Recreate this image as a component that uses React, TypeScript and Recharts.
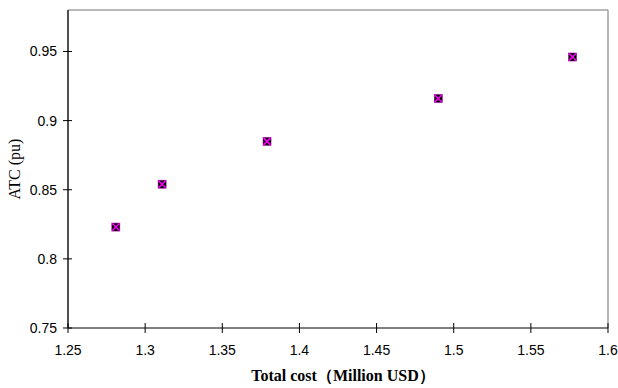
import React from "react";
import { ScatterChart, Scatter, XAxis, YAxis, ReferenceLine } from "recharts";

const totalCost = [1.281, 1.311, 1.379, 1.49, 1.577];
const atc = [0.823, 0.854, 0.885, 0.916, 0.946];
const xTicks = [1.25, 1.3, 1.35, 1.4, 1.45, 1.5, 1.55, 1.6];
const yTicks = [0.75, 0.8, 0.85, 0.9, 0.95];
const xDomain = [1.25, 1.6];
const yDomain = [0.75, 0.98];
const xTitle = "Total cost（Million USD）";
const yTitle = "ATC (pu)";

const data = totalCost.map((x, i) => ({ x, y: atc[i] }));

const tickFont = "'Liberation Sans', Arial, sans-serif";

const YTick = (props: any) => {
  const { x, y, payload } = props;
  return (
    <g>
      <line x1={x - 5} x2={x + 4} y1={y} y2={y} stroke="#000" strokeWidth={1} />
      <text x={x - 11} y={y} textAnchor="end" dominantBaseline="central" fontFamily={tickFont} fontSize={14} fill="#000">
        {String(payload.value)}
      </text>
    </g>
  );
};

const XTick = (props: any) => {
  const { x, y, payload } = props;
  return (
    <g>
      <line x1={x} x2={x} y1={y - 5} y2={y + 5} stroke="#000" strokeWidth={1} />
      <text x={x} y={y + 22} textAnchor="middle" dominantBaseline="central" fontFamily={tickFont} fontSize={14} fill="#000">
        {String(payload.value)}
      </text>
    </g>
  );
};

const Marker = (props: any) => {
  const { cx, cy } = props;
  return (
    <g>
      <rect x={cx - 4} y={cy - 4} width={8} height={8} fill="#000" stroke="#b000b0" strokeWidth={0.6} />
      <line x1={cx - 3.5} y1={cy - 3.5} x2={cx + 3.5} y2={cy + 3.5} stroke="#ff00ff" strokeWidth={1.5} />
      <line x1={cx + 3.5} y1={cy - 3.5} x2={cx - 3.5} y2={cy + 3.5} stroke="#ff00ff" strokeWidth={1.5} />
    </g>
  );
};

export default function App() {
  return (
    <div style={{ position: "absolute", left: 0, top: 0, width: 618, height: 388, background: "#fff" }}>
      <ScatterChart width={618} height={388} margin={{ top: 10, right: 10, bottom: 0, left: 0 }}>
        <XAxis
          type="number"
          dataKey="x"
          domain={xDomain}
          ticks={xTicks}
          height={60}
          tickSize={0}
          tickMargin={0}
          tickLine={false}
          tick={<XTick />}
          axisLine={{ stroke: "#000", strokeWidth: 1 }}
          allowDataOverflow
          label={{
            value: xTitle,
            position: "insideBottom",
            offset: 7,
            dx: 5,
            style: { fontFamily: "'Liberation Serif', 'Times New Roman', serif", fontWeight: "bold", fontSize: 16, fill: "#000" },
          }}
        />
        <YAxis
          type="number"
          dataKey="y"
          domain={yDomain}
          ticks={yTicks}
          width={68}
          tickSize={0}
          tickMargin={0}
          tickLine={false}
          tick={<YTick />}
          axisLine={{ stroke: "#505050", strokeWidth: 2 }}
          allowDataOverflow
          label={{
            value: yTitle,
            angle: -90,
            position: "insideLeft",
            offset: 0,
            dx: 14,
            style: { textAnchor: "middle", fontFamily: "'Liberation Serif', 'Times New Roman', serif", fontSize: 16, fill: "#000" },
          }}
        />
        <ReferenceLine y={0.98} stroke="#a0a0a0" strokeWidth={1.5} />
        <ReferenceLine x={1.6} stroke="#a0a0a0" strokeWidth={1.5} />
        <Scatter data={data} isAnimationActive={false} shape={<Marker />} />
      </ScatterChart>
    </div>
  );
}
